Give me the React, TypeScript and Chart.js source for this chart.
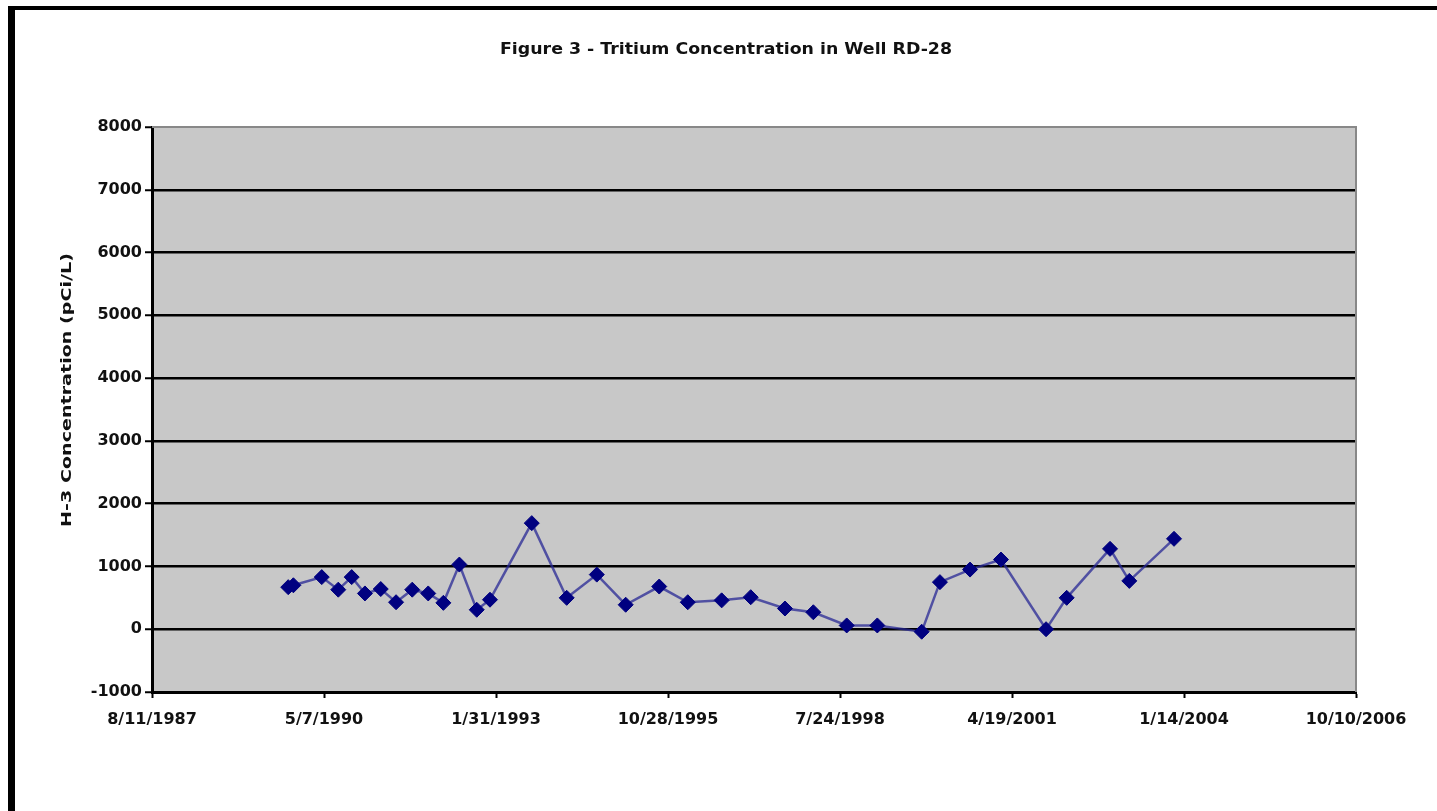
import React, { useEffect, useRef } from "react";
import { Chart, registerables } from "chart.js";

Chart.register(...registerables);

const TITLE = "Figure 3 - Tritium Concentration in Well RD-28";
const Y_TITLE = "H-3 Concentration (pCi/L)";
const ORIGIN_DATE = "1987-08-11";
const X_TICK_STEP_DAYS = 1000;
const X_MAX_DAYS = 7000;
const Y_MIN = -1000;
const Y_MAX = 8000;
const Y_STEP = 1000;

const sampleDates = [
  "1989-10-11", "1989-11-10", "1990-04-24", "1990-07-29", "1990-10-15",
  "1990-12-31", "1991-04-02", "1991-06-30", "1991-10-02", "1992-01-03",
  "1992-03-31", "1992-07-02", "1992-10-11", "1992-12-27", "1993-08-27",
  "1994-03-18", "1994-09-09", "1995-02-24", "1995-09-07", "1996-02-20",
  "1996-09-04", "1997-02-20", "1997-09-07", "1998-02-19", "1998-09-01",
  "1999-02-26", "1999-11-11", "2000-02-25", "2000-08-18", "2001-02-14",
  "2001-11-03", "2002-03-03", "2002-11-10", "2003-03-02", "2003-11-17",
];

const h3Values = [
  670, 700, 830, 630, 830,
  570, 640, 430, 630, 570,
  420, 1030, 310, 470, 1690,
  500, 870, 390, 680, 430,
  460, 510, 330, 270, 60,
  60, -40, 750, 950, 1110,
  0, 500, 1280, 770, 1440,
];

const DAY_MS = 86400000;
const originMs = Date.parse(ORIGIN_DATE + "T00:00:00Z");
const toDays = (s: string) => (Date.parse(s + "T00:00:00Z") - originMs) / DAY_MS;
const fmtDay = (d: number) => {
  const dt = new Date(originMs + Math.round(d) * DAY_MS);
  return `${dt.getUTCMonth() + 1}/${dt.getUTCDate()}/${dt.getUTCFullYear()}`;
};

const FONT = "'DejaVu Sans', sans-serif";

function drawStretched(
  ctx: CanvasRenderingContext2D,
  text: string,
  cx: number,
  cy: number,
  targetWidth: number,
  font: string,
  rotate = 0
) {
  ctx.save();
  ctx.font = font;
  ctx.fillStyle = "#111";
  ctx.textAlign = "center";
  ctx.textBaseline = "middle";
  const w = ctx.measureText(text).width;
  ctx.translate(cx, cy);
  if (rotate) ctx.rotate(rotate);
  ctx.scale(targetWidth / w, 1);
  ctx.fillText(text, 0, 0);
  ctx.restore();
}

const framePlugin = {
  id: "framePlugin",
  beforeDraw(chart: any) {
    const { ctx, chartArea } = chart;
    ctx.save();
    ctx.fillStyle = "#ffffff";
    ctx.fillRect(0, 0, chart.width, chart.height);
    ctx.fillStyle = "#c8c8c8";
    ctx.fillRect(chartArea.left, chartArea.top, chartArea.right - chartArea.left, chartArea.bottom - chartArea.top);
    ctx.restore();
  },
  afterDraw(chart: any) {
    const { ctx, chartArea } = chart;
    ctx.save();
    ctx.strokeStyle = "#888888";
    ctx.lineWidth = 2;
    ctx.beginPath();
    ctx.moveTo(chartArea.left, chartArea.top);
    ctx.lineTo(chartArea.right, chartArea.top);
    ctx.lineTo(chartArea.right, chartArea.bottom);
    ctx.stroke();
    ctx.restore();
    drawStretched(ctx, TITLE, 726, 50, 452, `bold 15px ${FONT}`);
    drawStretched(ctx, Y_TITLE, 67, 390, 274, `bold 14px ${FONT}`, -Math.PI / 2);
  },
};

export default function App() {
  const ref = useRef<HTMLCanvasElement | null>(null);

  useEffect(() => {
    const prevMargin = document.body.style.margin;
    document.body.style.margin = "0";
    const canvas = ref.current;
    if (!canvas) return;
    const points = sampleDates.map((d, i) => ({ x: toDays(d), y: h3Values[i] }));
    const chart = new Chart(canvas, {
      type: "line",
      data: {
        datasets: [
          {
            label: "H-3",
            data: points,
            borderColor: "rgba(40,40,150,0.75)",
            borderWidth: 2.5,
            pointStyle: "rectRot",
            pointRadius: 7.5,
            pointBackgroundColor: "#000080",
            pointBorderColor: "#000080",
            pointBorderWidth: 1,
            tension: 0,
          },
        ],
      },
      options: {
        responsive: false,
        animation: false,
        devicePixelRatio: 1,
        layout: { padding: { left: 50, top: 127, right: 81, bottom: 59 } },
        plugins: {
          legend: { display: false },
          title: { display: false },
          tooltip: { enabled: false },
        },
        scales: {
          x: {
            type: "linear",
            min: 0,
            max: X_MAX_DAYS,
            afterFit: (s: any) => {
              s.height = 60;
            },
            ticks: {
              stepSize: X_TICK_STEP_DAYS,
              callback: (v: any) => fmtDay(Number(v)),
              color: "#111",
              font: { family: FONT, size: 16, weight: "bold" },
              padding: 12,
              maxRotation: 0,
              autoSkip: false,
            },
            grid: {
              drawOnChartArea: false,
              drawTicks: true,
              tickLength: 6,
              tickColor: "#000",
              tickWidth: 2,
            },
            border: { color: "#000", width: 3 },
          },
          y: {
            min: Y_MIN,
            max: Y_MAX,
            afterFit: (s: any) => {
              s.width = 102;
            },
            ticks: {
              stepSize: Y_STEP,
              callback: (v: any) => String(v),
              color: "#111",
              font: { family: FONT, size: 16, weight: "bold" },
              padding: 3,
            },
            grid: {
              color: (c: any) => (c.tick && c.tick.value === Y_MAX ? "rgba(0,0,0,0)" : "#000"),
              lineWidth: 2.5,
              tickLength: 7,
              tickColor: "#000",
              tickWidth: 2,
            },
            border: { color: "#000", width: 3 },
          },
        },
      },
      plugins: [framePlugin],
    });
    return () => {
      chart.destroy();
      document.body.style.margin = prevMargin;
    };
  }, []);

  return (
    <div style={{ position: "absolute", left: 0, top: 0, width: 1437, height: 811, background: "#fff", overflow: "hidden" }}>
      <canvas ref={ref} width={1437} height={811} style={{ position: "absolute", left: 0, top: 0 }} />
      <div
        style={{
          position: "absolute",
          left: 8,
          top: 6,
          width: 1437,
          height: 811,
          borderLeft: "7px solid #000",
          borderTop: "4px solid #000",
          pointerEvents: "none",
        }}
      />
    </div>
  );
}
